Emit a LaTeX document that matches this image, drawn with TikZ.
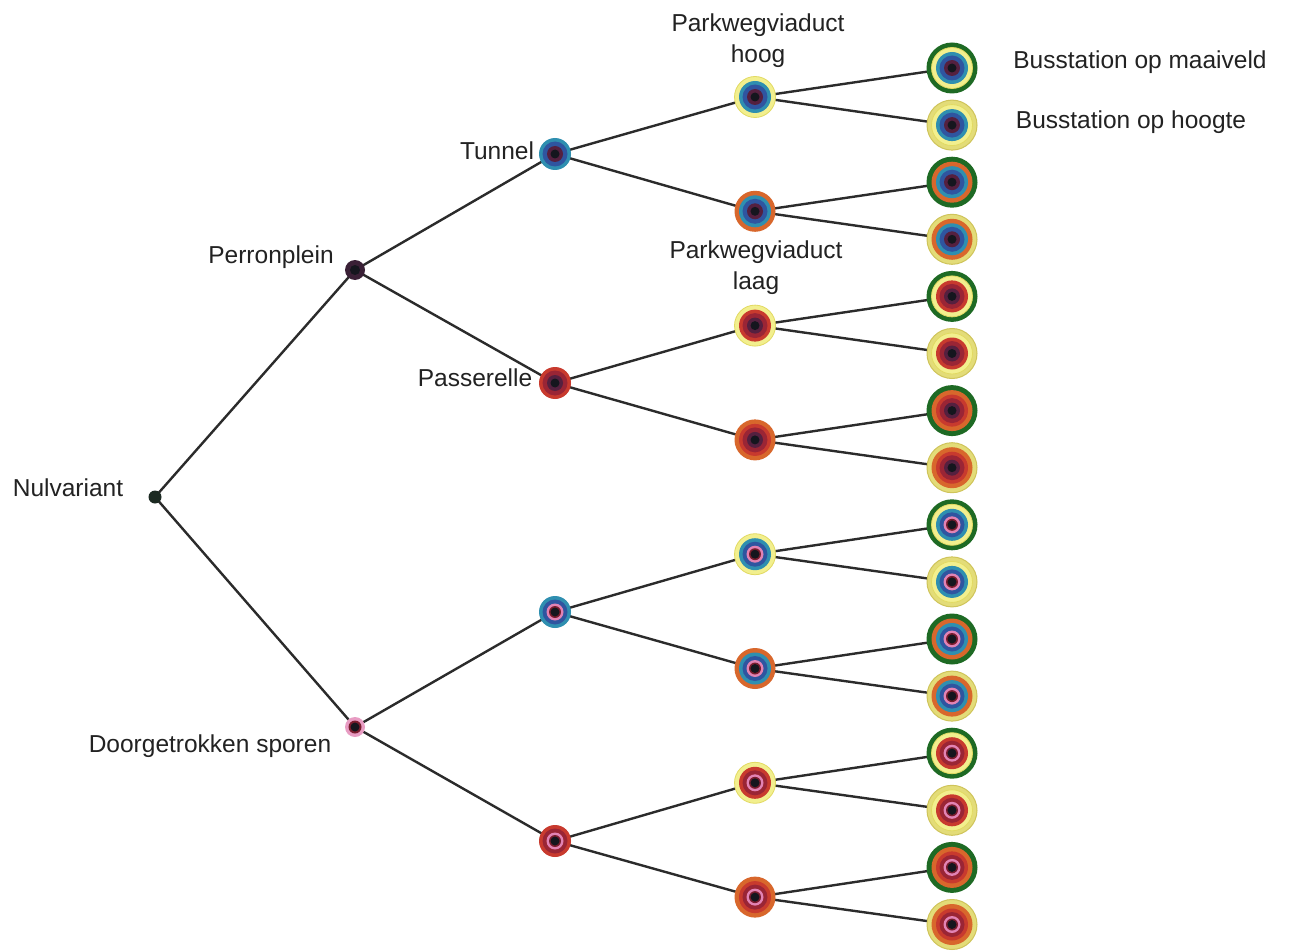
\documentclass[tikz,border=0pt]{standalone}
\usepackage{fontspec}
\setmainfont{Liberation Sans}

\definecolor{cEdge}{HTML}{2B2B2B}
\definecolor{cText}{HTML}{222222}
\definecolor{cDark}{HTML}{15161E}
\definecolor{cPurple}{HTML}{55203F}
\definecolor{cPurpleTop}{HTML}{3A2036}
\definecolor{cPink}{HTML}{E283B4}
\definecolor{cDeepRed}{HTML}{7A1D2E}
\definecolor{cTeal}{HTML}{2F8FB0}
\definecolor{cBlue}{HTML}{2F55A0}
\definecolor{cRed}{HTML}{C83A2E}
\definecolor{cRedDark}{HTML}{9A2535}
\definecolor{cYellow}{HTML}{F2EF8E}
\definecolor{cYellowEdge}{HTML}{E2DA62}
\definecolor{cOrange}{HTML}{D8672C}
\definecolor{cGreen}{HTML}{1E6A24}
\definecolor{cHoogte}{HTML}{E3DC78}
\definecolor{cHoogteEdge}{HTML}{CFC45A}
\definecolor{cRoot}{HTML}{1C2A22}

\pgfdeclarelayer{paper}
\pgfdeclarelayer{edges}
\pgfsetlayers{paper,edges,main}

% innermost layer: platform choice (Perronplein = 1, Doorgetrokken sporen = 2)
\newcommand\drawcore[2]{%
  \ifnum#2=1
    \fill[cPurple] (#1) circle (8pt);
    \fill[cDark] (#1) circle (4.5pt);
  \else
    \fill[cPink] (#1) circle (8.5pt);
    \fill[cDeepRed] (#1) circle (6pt);
    \fill[cDark] (#1) circle (4.5pt);
  \fi}
% second layer: Tunnel = 1, Passerelle = 0
\newcommand\drawcrossing[2]{%
  \ifnum#2=1
    \fill[cTeal] (#1) circle (16pt);
    \fill[cBlue] (#1) circle (12.5pt);
  \else
    \fill[cRed] (#1) circle (16pt);
    \fill[cRedDark] (#1) circle (12.5pt);
  \fi}
% third layer: viaduct hoog = 1, laag = 0
\newcommand\drawviaduct[2]{%
  \ifnum#2=1
    \fill[cYellow,draw=cYellowEdge,line width=0.8pt] (#1) circle (20.5pt);
  \else
    \fill[cOrange] (#1) circle (20.5pt);
  \fi}

\tikzset{
  edge/.style={draw=cEdge,line width=2.4pt},
  bub/.style={circle,inner sep=0pt,outer sep=0pt},
  lab/.style={font=\fontsize{24.5}{31}\selectfont,text=cText,inner sep=0pt,
              align=center,text height=17pt,text depth=5pt},
}

\begin{document}
\begin{tikzpicture}[x=1pt,y=-1pt]
\begin{pgfonlayer}{paper}
  \fill[white] (0,0) rectangle (1290,952);
\end{pgfonlayer}
\useasboundingbox (0,0) rectangle (1290,952);

% root
\node[bub,fill=cRoot,minimum size=13pt] (L0) at (155,497) {};

% level 1: platform
\foreach \a/\y in {1/270,2/727}{
  \node[bub,minimum size=20pt] (L1-\a) at (355,\y) {};
  \begin{pgfonlayer}{edges}
    \draw[edge] (L0.center) -- (L1-\a.center);
  \end{pgfonlayer}
  \ifnum\a=1
    \fill[cPurpleTop] (L1-\a) circle (10pt);
    \fill[cDark] (L1-\a) circle (5pt);
  \else
    \fill[cPink!80!white] (L1-\a) circle (10pt);
    \fill[cDeepRed] (L1-\a) circle (6.5pt);
    \fill[cDark] (L1-\a) circle (4.5pt);
  \fi
}

% level 2: crossing
\foreach \k in {1,...,4}{
  \pgfmathtruncatemacro\a{(\k+1)/2}
  \pgfmathtruncatemacro\t{mod(\k,2)}
  \pgfmathsetmacro\y{154+229*(\k-1)}
  \node[bub,minimum size=32pt] (L2-\k) at (555,\y) {};
  \begin{pgfonlayer}{edges}
    \draw[edge] (L1-\a.center) -- (L2-\k.center);
  \end{pgfonlayer}
  \drawcrossing{L2-\k}{\t}
  \drawcore{L2-\k}{\a}
}

% level 3: park road viaduct
\foreach \i in {1,...,8}{
  \pgfmathtruncatemacro\k{(\i+1)/2}
  \pgfmathtruncatemacro\a{(\k+1)/2}
  \pgfmathtruncatemacro\h{mod(\i,2)}
  \pgfmathtruncatemacro\t{mod(\k,2)}
  \pgfmathsetmacro\y{97+114.3*(\i-1)}
  \node[bub,minimum size=41pt] (L3-\i) at (755,\y) {};
  \begin{pgfonlayer}{edges}
    \draw[edge] (L2-\k.center) -- (L3-\i.center);
  \end{pgfonlayer}
  \drawviaduct{L3-\i}{\h}
  \drawcrossing{L3-\i}{\t}
  \drawcore{L3-\i}{\a}
}

% level 4: bus station
\foreach \j in {1,...,16}{
  \pgfmathtruncatemacro\i{(\j+1)/2}
  \pgfmathtruncatemacro\k{(\i+1)/2}
  \pgfmathtruncatemacro\a{(\k+1)/2}
  \pgfmathtruncatemacro\m{mod(\j,2)}
  \pgfmathtruncatemacro\h{mod(\i,2)}
  \pgfmathtruncatemacro\t{mod(\k,2)}
  \pgfmathsetmacro\y{68+57.1*(\j-1)}
  \node[bub,minimum size=51pt] (L4-\j) at (952,\y) {};
  \begin{pgfonlayer}{edges}
    \draw[edge] (L3-\i.center) -- (L4-\j.center);
  \end{pgfonlayer}
  \ifnum\m=1
    \fill[cGreen] (L4-\j) circle (25.5pt);
  \else
    \fill[cHoogte,draw=cHoogteEdge,line width=1pt] (L4-\j) circle (25pt);
  \fi
  \drawviaduct{L4-\j}{\h}
  \drawcrossing{L4-\j}{\t}
  \drawcore{L4-\j}{\a}
}

% labels
\node[lab] (tNul) at (68,490) {Nulvariant};
\node[lab] (tPerron) at (271,257) {Perronplein};
\node[lab] (tDoor) at (210,746) {Doorgetrokken sporen};
\node[lab] (tTunnel) at (497,154) {Tunnel};
\node[lab] (tPass) at (475,380) {Passerelle};
\node[lab,text height=,text depth=] (tHoog) at (758,41) {Parkwegviaduct\\hoog};
\node[lab,text height=,text depth=] (tLaag) at (756,268) {Parkwegviaduct\\laag};
\node[lab] (tMaai) at (1140,63) {Busstation op maaiveld};
\node[lab] (tHoogte) at (1131,123) {Busstation op hoogte};
\end{tikzpicture}
\end{document}
